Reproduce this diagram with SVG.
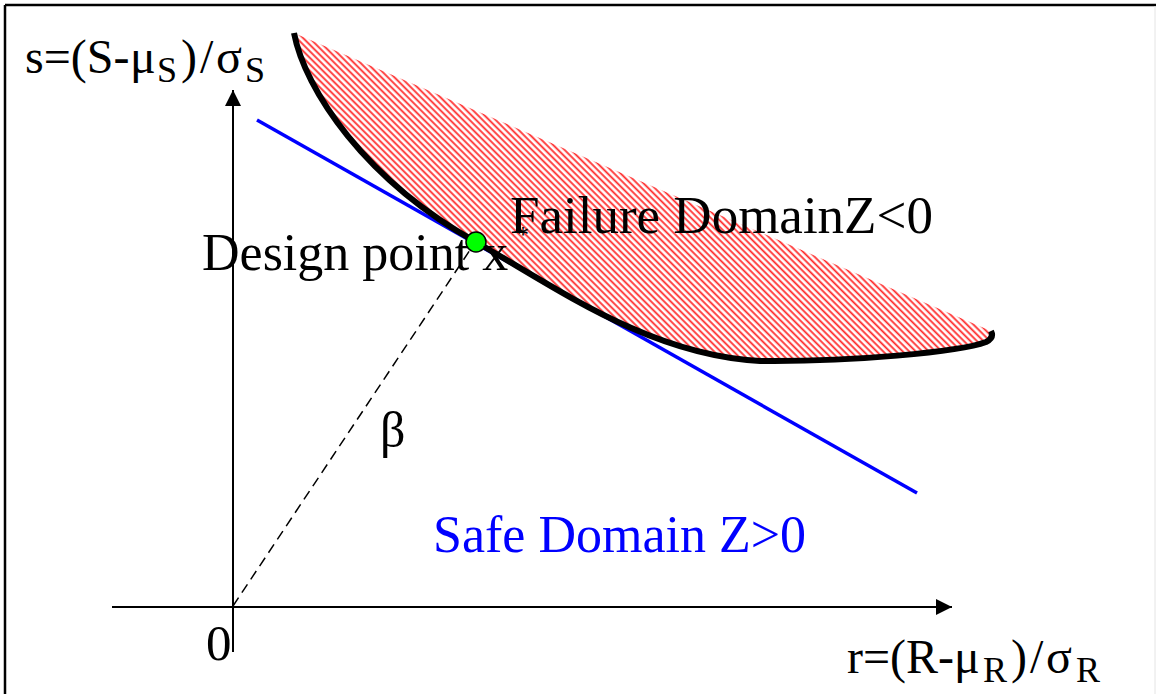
<svg xmlns="http://www.w3.org/2000/svg" width="1157" height="694" viewBox="0 0 1157 694">
<style>
  .axis { stroke: #000; stroke-width: 2; fill: none; }
</style>
<defs>
  <pattern id="hatch" patternUnits="userSpaceOnUse" width="4.6" height="4.6" patternTransform="rotate(45)">
    <rect width="4.6" height="4.6" fill="#fff"/>
    <line x1="0" y1="1.2" x2="4.6" y2="1.2" stroke="#ff2a2a" stroke-width="1.8"/>
  </pattern>
  <marker id="arr" viewBox="0 0 16 16" refX="16" refY="8" markerWidth="16" markerHeight="16" markerUnits="userSpaceOnUse" orient="auto">
    <path d="M0,0 L16,8 L0,16 Z" fill="#000"/>
  </marker>
</defs>
<rect width="1157" height="694" fill="#fff"/>
<g id="frame">
  <line x1="5" y1="5" x2="1156" y2="5" stroke="#000" stroke-width="2.5"/>
  <line x1="5" y1="5" x2="5" y2="694" stroke="#000" stroke-width="2.5"/>
  <line x1="1155" y1="6" x2="1155" y2="694" stroke="#e4e4e4" stroke-width="1"/>
</g>
<g id="failure-region">
  <path d="M294,33 C305,90 365,180 476,242 C560,290 650,355 760,361 C850,362 960,352 986,342 C992,339 993,335 991,331 Z" fill="url(#hatch)" stroke="none"/>
</g>
<g id="connectors">
  <line id="x-axis" class="axis" x1="112" y1="607" x2="952" y2="607" marker-end="url(#arr)"/>
  <line id="y-axis" class="axis" x1="233" y1="652" x2="233" y2="90" marker-end="url(#arr)"/>
  <line id="beta-line" x1="233" y1="606" x2="470" y2="250" stroke="#000" stroke-width="1.5" stroke-dasharray="10,6"/>
  <line id="tangent" x1="257" y1="120" x2="917" y2="493" stroke="#0000ff" stroke-width="3.5"/>
  <path id="limit-state" d="M294,33 C305,90 365,180 476,242 C560,290 650,355 760,361 C850,362 960,352 986,342 C992,339 993,335 991,331" fill="none" stroke="#000" stroke-width="6"/>
</g>
<g id="design-point">
  <circle cx="476" cy="242" r="10" fill="#00ff00" stroke="#000" stroke-width="1.5"/>
</g>
<g id="labels">
  <text id="s-axis-label" font-family="Liberation Serif, serif" font-size="48" y="73"><tspan x="25">s=(S-</tspan><tspan x="130">μ</tspan><tspan x="157" y="82" font-size="36">S</tspan><tspan x="181" y="73">)</tspan><tspan x="200">/</tspan><tspan x="216">σ</tspan><tspan x="245" y="82" font-size="36">S</tspan></text>
  <text id="r-axis-label" font-family="Liberation Serif, serif" font-size="48" y="673"><tspan x="847">r=(R-</tspan><tspan x="954">μ</tspan><tspan x="983" y="682" font-size="36">R</tspan><tspan x="1011" y="673">)</tspan><tspan x="1030">/</tspan><tspan x="1046">σ</tspan><tspan x="1076" y="682" font-size="36">R</tspan></text>
  <text font-family="Liberation Serif, serif" font-size="51" x="206" y="660">0</text>
  <text font-family="Liberation Serif, serif" font-size="52" x="202" y="270">Design point x</text>
  <text font-family="Liberation Serif, serif" font-size="24" x="517" y="242">*</text>
  <text font-family="Liberation Serif, serif" font-size="53" x="510" y="233">Failure DomainZ&lt;0</text>
  <text font-family="Liberation Serif, serif" font-size="50" x="380" y="447">β</text>
  <text font-family="Liberation Serif, serif" font-size="52" x="433" y="552" fill="#0000ff">Safe Domain Z&gt;0</text>
</g>
</svg>
